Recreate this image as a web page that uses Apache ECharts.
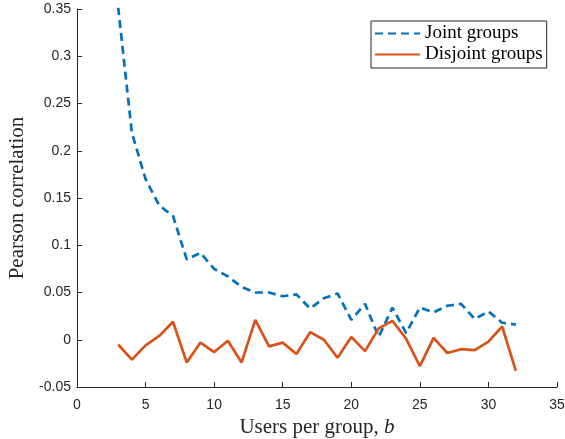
<!DOCTYPE html>
<html>
<head>
<meta charset="utf-8">
<script src="https://cdn.jsdelivr.net/npm/echarts@6/dist/echarts.min.js"></script>
<style>
  html, body { margin: 0; padding: 0; background: #fff; }
  #chart { width: 565px; height: 439px; }
</style>
</head>
<body>
<div id="chart"></div>
<script>
// users per group b
var groupSizes = [3,4,5,6,7,8,9,10,11,12,13,14,15,16,17,18,19,20,21,22,23,24,25,26,27,28,29,30,31,32];
// pearson correlation
var jointGroups = [0.352,0.219,0.170,0.142,0.131,0.085,0.092,0.075,0.067,0.056,0.050,0.050,0.046,0.048,0.033,0.044,0.049,0.021,0.038,0.003,0.034,0.007,0.034,0.029,0.036,0.038,0.022,0.030,0.018,0.016];
var disjointGroups = [-0.005,-0.021,-0.006,0.004,0.019,-0.024,-0.003,-0.013,-0.001,-0.024,0.021,-0.007,-0.003,-0.015,0.008,0.000,-0.019,0.003,-0.012,0.012,0.020,0.001,-0.028,0.002,-0.014,-0.010,-0.011,-0.002,0.014,-0.033];
var seriesNames = ['Joint groups', 'Disjoint groups'];

function pairs(xs, ys) {
	var out = [];
	for (var i = 0; i < xs.length; i++) out.push([xs[i], ys[i]]);
	return out;
}

var axisColor = '#262626';
var chart = echarts.init(document.getElementById('chart'));

var option = {
	animation: false,
	backgroundColor: '#fff',
	grid: { left: 77, right: 8, top: 9, bottom: 52, containLabel: false, outerBoundsMode: 'none' },
	legend: {
		data: seriesNames,
		orient: 'vertical',
		left: 371,
		top: 21,
		padding: [3, 4, 4, 3],
		itemGap: 2,
		itemWidth: 45,
		itemHeight: 20,
		backgroundColor: '#fff',
		borderColor: axisColor,
		borderWidth: 1,
		borderRadius: 0,
		itemStyle: { opacity: 0 },
		textStyle: { fontFamily: 'Liberation Serif', fontSize: 19, color: '#000' }
	},
	xAxis: {
		type: 'value',
		min: 0,
		max: 35,
		interval: 5,
		name: 'Users per group, {i|b}',
		nameLocation: 'middle',
		nameGap: 18,
		nameTextStyle: {
			fontFamily: 'Liberation Serif', fontSize: 21, color: '#262626',
			rich: { i: { fontFamily: 'Liberation Serif', fontStyle: 'italic', fontSize: 21, color: '#262626' } }
		},
		axisLine: { show: true, onZero: false, lineStyle: { color: axisColor, width: 1 } },
		axisTick: { show: true, inside: true, length: 5, lineStyle: { color: axisColor } },
		axisLabel: { margin: 11, fontFamily: 'Liberation Sans', fontSize: 14, color: axisColor },
		splitLine: { show: false }
	},
	yAxis: {
		type: 'value',
		min: -0.05,
		max: 0.35,
		interval: 0.05,
		name: 'Pearson correlation',
		nameLocation: 'middle',
		nameGap: 39,
		nameTextStyle: { fontFamily: 'Liberation Serif', fontSize: 21, color: '#262626' },
		axisLine: { show: true, onZero: false, lineStyle: { color: axisColor, width: 1 } },
		axisTick: { show: true, inside: true, length: 5, lineStyle: { color: axisColor } },
		axisLabel: { margin: 6, fontFamily: 'Liberation Sans', fontSize: 14, color: axisColor },
		splitLine: { show: false }
	},
	series: [
		{
			name: seriesNames[0],
			type: 'line',
			data: pairs(groupSizes, jointGroups),
			symbol: 'none',
			clip: true,
			color: '#0072BD',
			lineStyle: { color: '#0072BD', width: 2.7, type: [8, 5] }
		},
		{
			name: seriesNames[1],
			type: 'line',
			data: pairs(groupSizes, disjointGroups),
			symbol: 'none',
			clip: true,
			color: '#D95319',
			lineStyle: { color: '#D95319', width: 2.7 }
		}
	]
};
chart.setOption(option);
</script>
</body>
</html>
